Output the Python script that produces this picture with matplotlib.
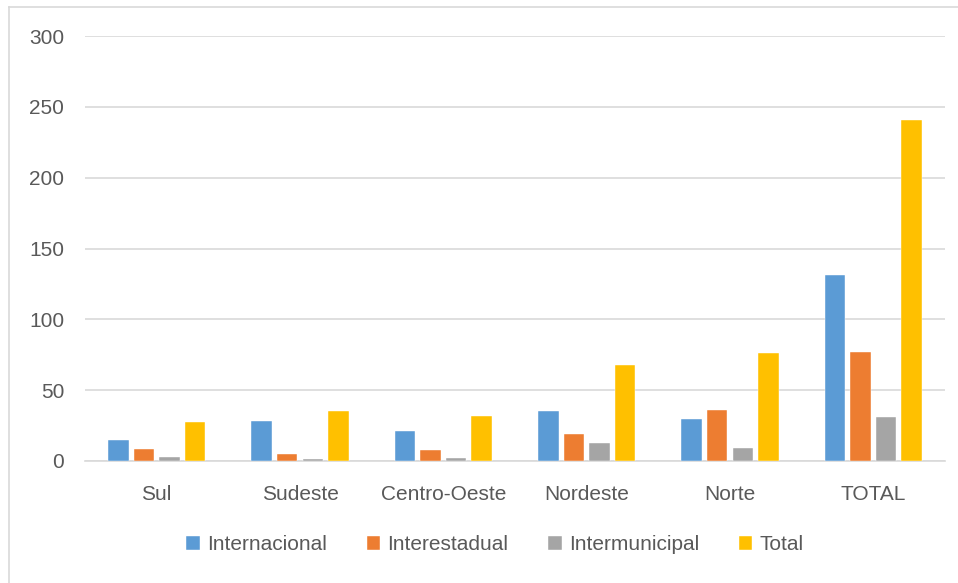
import numpy as np
import matplotlib
matplotlib.use("Agg")
import matplotlib.pyplot as plt
from matplotlib.lines import Line2D

# --- data ---
regions = ["Sul", "Sudeste", "Centro-Oeste", "Nordeste", "Norte", "TOTAL"]
internacional = [15, 28, 21, 35, 30, 131]
interestadual = [8.5, 5, 8, 19, 36, 77]
intermunicipal = [3, 1.2, 2, 13, 9, 31]
total = [27.5, 35, 32, 68, 76, 241]

series = [
    ("Internacional", internacional, "#5B9BD5"),
    ("Interestadual", interestadual, "#ED7D31"),
    ("Intermunicipal", intermunicipal, "#A5A5A5"),
    ("Total", total, "#FFC000"),
]

W, H = 958, 583
plt.rcParams["font.family"] = ["Liberation Sans", "DejaVu Sans"]
fig = plt.figure(figsize=(W / 100, H / 100), dpi=100)
ax = fig.add_axes([85 / W, 1 - 461 / H, 860 / W, 425 / H])

x = np.arange(len(regions))
bw = 0.144
step = 0.179
for i, (name, vals, col) in enumerate(series):
    ax.bar(x + (i - 1.5) * step, vals, bw, color=col, label=name,
           edgecolor="white", linewidth=0.3, zorder=3)

ax.set_xlim(-0.5, len(regions) - 0.5)
ax.set_ylim(0, 300)
ax.set_yticks(range(0, 301, 50))
ax.yaxis.grid(True, color="#D9D9D9", lw=1.2, zorder=0)
ax.set_xticks(x)
ax.set_xticklabels(regions)
ax.tick_params(length=0, labelsize=15, colors="#595959")
ax.tick_params(axis="x", pad=17)
ax.tick_params(axis="y", pad=15)
for s in ["top", "right", "left"]:
    ax.spines[s].set_visible(False)
ax.spines["bottom"].set_color("#D9D9D9")
ax.spines["bottom"].set_linewidth(1.2)

leg = fig.legend(loc="center", bbox_to_anchor=(495 / W, 1 - 545 / H), ncol=4,
                 frameon=False, fontsize=15, handlelength=0.65,
                 handleheight=0.65, handletextpad=0.35, columnspacing=1.9)
for t in leg.get_texts():
    t.set_color("#595959")

# chart-area border (only left and top edges are visible)
fig.add_artist(Line2D([9 / W, 9 / W], [0, 1 - 7 / H], color="#D9D9D9", lw=1.2))
fig.add_artist(Line2D([9 / W, 1], [1 - 7 / H, 1 - 7 / H], color="#D9D9D9", lw=1.2))

fig.savefig("out.png", dpi=100)
